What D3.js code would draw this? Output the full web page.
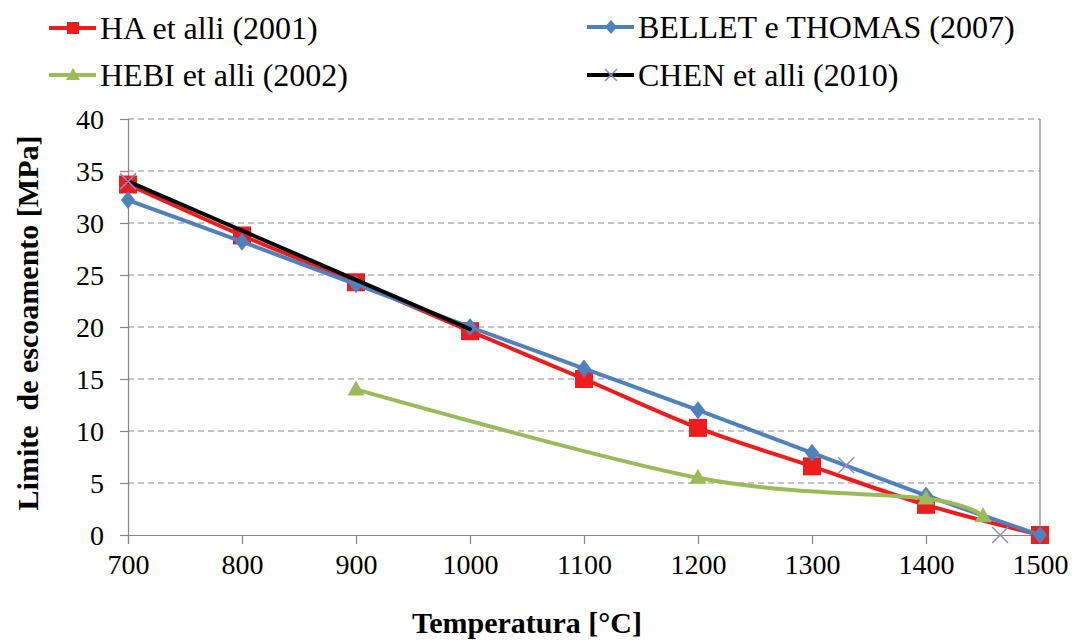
<!DOCTYPE html>
<html>
<head>
<meta charset="utf-8">
<script src="https://cdn.jsdelivr.net/npm/d3@7/dist/d3.min.js"></script>
<style>
  html, body { margin: 0; padding: 0; background: #fff; }
  svg { display: block; }
  svg text { font-family: "Liberation Serif", "Times New Roman", serif; }
</style>
</head>
<body>
<svg id="chart" width="1075" height="643"></svg>
<script>
// Yield strength vs temperature, four literature sources
const haTemp = [700, 800, 900, 1000, 1100, 1200, 1300, 1400, 1500];
const haVal = [33.7, 28.8, 24.3, 19.6, 15.0, 10.3, 6.6, 2.9, 0];

const belletTemp = [700, 800, 900, 1000, 1100, 1200, 1300, 1400, 1500];
const belletVal = [32.2, 28.2, 24.1, 20.0, 16.0, 12.0, 7.9, 3.8, 0];

const hebiTemp = [900, 1200, 1400, 1450];
const hebiVal = [14.0, 5.5, 3.5, 1.8];

const chenLineTemp = [700, 1000];
const chenLineVal = [34.0, 19.8];
const chenPointTemp = [700, 1330, 1465];
const chenPointVal = [34.0, 6.7, 0];

const xTicks = [700, 800, 900, 1000, 1100, 1200, 1300, 1400, 1500];
const yTicks = [0, 5, 10, 15, 20, 25, 30, 35, 40];

const legendLabels = ["HA et alli (2001)", "BELLET e THOMAS (2007)", "HEBI et alli (2002)", "CHEN et alli (2010)"];
const xTitle = "Temperatura [°C]";
const yTitle = "Limite\u00a0 de escoamento [MPa]";

const colors = { ha: "#ee1c1c", bellet: "#4f81bd", hebi: "#9bbb59", chen: "#000000", chenMark: "#8a8cc8" };
const serif = "'Liberation Serif', 'Times New Roman', serif";

const svg = d3.select("#chart");
const plot = { left: 128, right: 1040, top: 119, bottom: 535 };

const x = d3.scaleLinear().domain([700, 1500]).range([plot.left, plot.right]);
const y = d3.scaleLinear().domain([0, 40]).range([plot.bottom, plot.top]);

const axisColor = "#868686";

// dashed horizontal gridlines
svg.append("g")
  .selectAll("line")
  .data(yTicks.filter(d => d > 0))
  .join("line")
  .attr("x1", plot.left).attr("x2", plot.right)
  .attr("y1", d => y(d)).attr("y2", d => y(d))
  .attr("stroke", "#8c8c8c").attr("stroke-width", 1.2)
  .attr("stroke-dasharray", "6,4");

// right edge of plot area
svg.append("line")
  .attr("x1", plot.right).attr("x2", plot.right)
  .attr("y1", plot.top).attr("y2", plot.bottom)
  .attr("stroke", axisColor).attr("stroke-width", 1.2);

// axes
const xAxis = svg.append("g")
  .attr("transform", `translate(0,${plot.bottom})`)
  .call(d3.axisBottom(x).tickValues(xTicks).tickSize(9).tickPadding(10).tickFormat(d3.format("d")));
const yAxis = svg.append("g")
  .attr("transform", `translate(${plot.left},0)`)
  .call(d3.axisLeft(y).tickValues(yTicks).tickSize(8).tickPadding(16).tickFormat(d3.format("d")));

[xAxis, yAxis].forEach(g => {
  g.attr("font-family", serif).attr("font-size", 28);
  g.select(".domain").attr("stroke", axisColor).attr("stroke-width", 1.2);
  g.selectAll(".tick line").attr("stroke", axisColor).attr("stroke-width", 1.2);
  g.selectAll(".tick text")
    .attr("fill", "#000")
    .attr("font-family", serif)
    .style("font-family", serif)
    .style("font-size", "28px");
});
yAxis.selectAll(".tick text").attr("dy", "0.35em");

// smooth series lines
const lineGen = d3.line()
  .x(d => x(d[0])).y(d => y(d[1]))
  .curve(d3.curveCardinal.tension(0));

const zip = (a, b) => a.map((t, i) => [t, b[i]]);
const haData = zip(haTemp, haVal);
const belletData = zip(belletTemp, belletVal);
const hebiData = zip(hebiTemp, hebiVal);
const chenLine = zip(chenLineTemp, chenLineVal);
const chenPoints = zip(chenPointTemp, chenPointVal);

const series = svg.append("g");

function drawLine(data, color, width) {
  series.append("path")
    .datum(data)
    .attr("d", lineGen)
    .attr("fill", "none")
    .attr("stroke", color)
    .attr("stroke-width", width)
    .attr("stroke-linejoin", "round")
    .attr("stroke-linecap", "round");
}

const squarePath = "M-9,-9H9V9H-9Z";
const diamondPath = "M0,-9L7,0L0,9L-7,0Z";
const trianglePath = "M0,-9L8.5,6L-8.5,6Z";
const crossPath = "M-8,-8L8,8M-8,8L8,-8";

function drawMarkers(data, pathStr, fill) {
  series.append("g")
    .selectAll("path")
    .data(data)
    .join("path")
    .attr("transform", d => `translate(${x(d[0])},${y(d[1])})`)
    .attr("d", pathStr)
    .attr("fill", fill);
}

// HA et alli
drawLine(haData, colors.ha, 4);
drawMarkers(haData, squarePath, colors.ha);
// BELLET e THOMAS
drawLine(belletData, colors.bellet, 4);
drawMarkers(belletData, diamondPath, colors.bellet);
// HEBI et alli
drawLine(hebiData, colors.hebi, 4);
drawMarkers(hebiData, trianglePath, colors.hebi);
// CHEN et alli
drawLine(chenLine, colors.chen, 4);
series.append("g")
  .selectAll("path")
  .data(chenPoints)
  .join("path")
  .attr("transform", d => `translate(${x(d[0])},${y(d[1])})`)
  .attr("d", crossPath)
  .attr("fill", "none")
  .attr("stroke", colors.chenMark)
  .attr("stroke-width", 1.5);

// legend
const legendItems = [
  { label: legendLabels[0], color: colors.ha, marker: "M-6,-6H6V6H-6Z", mfill: colors.ha, x: 49, y: 28 },
  { label: legendLabels[1], color: colors.bellet, marker: "M0,-7L6,0L0,7L-6,0Z", mfill: colors.bellet, x: 587, y: 27 },
  { label: legendLabels[2], color: colors.hebi, marker: "M0,-7L7,5L-7,5Z", mfill: colors.hebi, x: 49, y: 75 },
  { label: legendLabels[3], color: colors.chen, marker: "M-6,-6L6,6M-6,6L6,-6", mfill: null, x: 587, y: 75 }
];
const legend = svg.append("g");
legendItems.forEach(it => {
  const g = legend.append("g").attr("transform", `translate(${it.x},${it.y})`);
  g.append("line").attr("x1", 0).attr("x2", 47).attr("y1", 0).attr("y2", 0)
    .attr("stroke", it.color).attr("stroke-width", 4);
  const m = g.append("path").attr("transform", "translate(24,0)").attr("d", it.marker);
  if (it.mfill) m.attr("fill", it.mfill);
  else m.attr("fill", "none").attr("stroke", colors.chenMark).attr("stroke-width", 1.5);
  g.append("text")
    .attr("x", 51).attr("y", 0).attr("dy", "0.35em")
    .attr("font-family", serif)
    .style("font-size", "32px")
    .attr("fill", "#000")
    .text(it.label);
});

// axis titles
svg.append("text")
  .attr("x", 527).attr("y", 633)
  .attr("text-anchor", "middle")
  .attr("font-family", serif)
  .style("font-size", "30px").style("font-weight", "bold")
  .text(xTitle);

svg.append("text")
  .attr("transform", "translate(38,323) rotate(-90)")
  .attr("text-anchor", "middle")
  .attr("font-family", serif)
  .style("font-size", "30px").style("font-weight", "bold")
  .text(yTitle);
</script>
</body>
</html>
